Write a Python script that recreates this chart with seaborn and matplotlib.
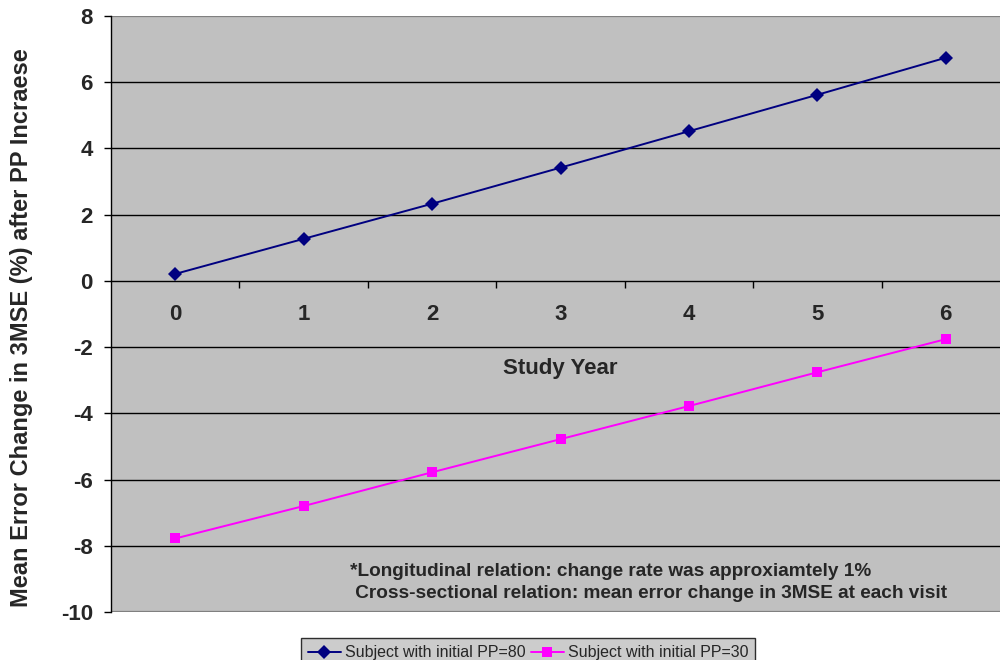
import matplotlib
matplotlib.use("Agg")
import matplotlib.pyplot as plt
import seaborn as sns
import pandas as pd

# Study years and mean error change in 3MSE (%) for the two subject profiles
study_year = [0, 1, 2, 3, 4, 5, 6]
pp80_change = [0.21, 1.27, 2.33, 3.42, 4.52, 5.62, 6.74]
pp30_change = [-7.78, -6.80, -5.78, -4.78, -3.78, -2.76, -1.76]
series_names = ["Subject with initial PP=80", "Subject with initial PP=30"]
y_ticks = [-10, -8, -6, -4, -2, 0, 2, 4, 6, 8]
note_lines = [
    "*Longitudinal relation: change rate was approxiamtely 1%",
    " Cross-sectional relation: mean error change in 3MSE at each visit",
]

df = pd.DataFrame({
    "Study Year": study_year * 2,
    "Change": pp80_change + pp30_change,
    "Series": [series_names[0]] * len(study_year) + [series_names[1]] * len(study_year),
})

sns.set_style("white", {"axes.facecolor": "#C0C0C0"})
plt.rcParams["font.family"] = ["Liberation Sans", "DejaVu Sans"]

fig = plt.figure(figsize=(10, 6.6), dpi=100)
ax = fig.add_axes([0.111, 1 - 612 / 660, 0.899, (612 - 16) / 660])

palette = {series_names[0]: "#000080", series_names[1]: "#FF00FF"}
markers = {series_names[0]: "D", series_names[1]: "s"}
sns.lineplot(data=df, x="Study Year", y="Change", hue="Series", style="Series",
             palette=palette, markers=markers, dashes=False, markersize=7,
             markeredgewidth=0, linewidth=1.4, ax=ax, legend=True)

ax.set_xlim(-0.5, 6.5)
ax.set_ylim(-10, 8)

# Horizontal gridlines in black, plot-area frame in grey
for y in y_ticks:
    if y in (-10, 8):
        ax.axhline(y, color="#808080", lw=1.6, zorder=1)
    elif y != 0:
        ax.axhline(y, color="black", lw=1.0, zorder=1)

for side in ("top", "right", "bottom"):
    ax.spines[side].set_visible(False)
ax.spines["left"].set_color("black")
ax.spines["left"].set_linewidth(1.0)

# Category axis crossing at zero, tick marks between categories
ax.spines["bottom"].set_visible(True)
ax.spines["bottom"].set_position(("data", 0))
ax.spines["bottom"].set_color("black")
ax.spines["bottom"].set_linewidth(1.0)
ax.set_xticks([y + 0.5 for y in study_year[:-1]])
ax.set_xticklabels([])
ax.set_xticks(study_year, minor=True)
ax.set_xticklabels([str(y) for y in study_year], minor=True,
                   fontsize=16, fontweight="bold")
ax.tick_params(axis="x", which="major", direction="out", length=5, width=1, color="black", bottom=True)
ax.tick_params(axis="x", which="minor", length=0, pad=17)

ax.set_yticks(y_ticks)
ax.set_yticklabels([str(v) for v in y_ticks], fontsize=16, fontweight="bold")
ax.tick_params(axis="y", direction="out", length=5, width=1, color="black", pad=8, left=True)

ax.set_xlabel("")
ax.set_ylabel("")
ax.text(3, -2.64, "Study Year", ha="center", va="center", fontsize=16, fontweight="bold")
fig.text(0.022, 1 - 328 / 660, "Mean Error Change in 3MSE (%) after PP Incraese",
         rotation=90, ha="center", va="center", fontsize=17, fontweight="bold")

ax.text(1.36, -8.79, note_lines[0], ha="left", va="center", fontsize=13.7, fontweight="bold")
ax.text(1.36, -9.45, note_lines[1], ha="left", va="center", fontsize=13.7, fontweight="bold")

handles, labels = ax.get_legend_handles_labels()
ax.get_legend().remove()
leg = fig.legend(handles, labels, loc="upper center", bbox_to_anchor=(0.528, 1 - 638 / 660),
                 ncol=2, frameon=True, fancybox=False, edgecolor="black", fontsize=11.5,
                 handlelength=2.05, handletextpad=0.25, columnspacing=0.35, borderpad=0.45,
                 borderaxespad=0)
leg.get_frame().set_linewidth(1.0)

fig.savefig("out.png", dpi=100)
